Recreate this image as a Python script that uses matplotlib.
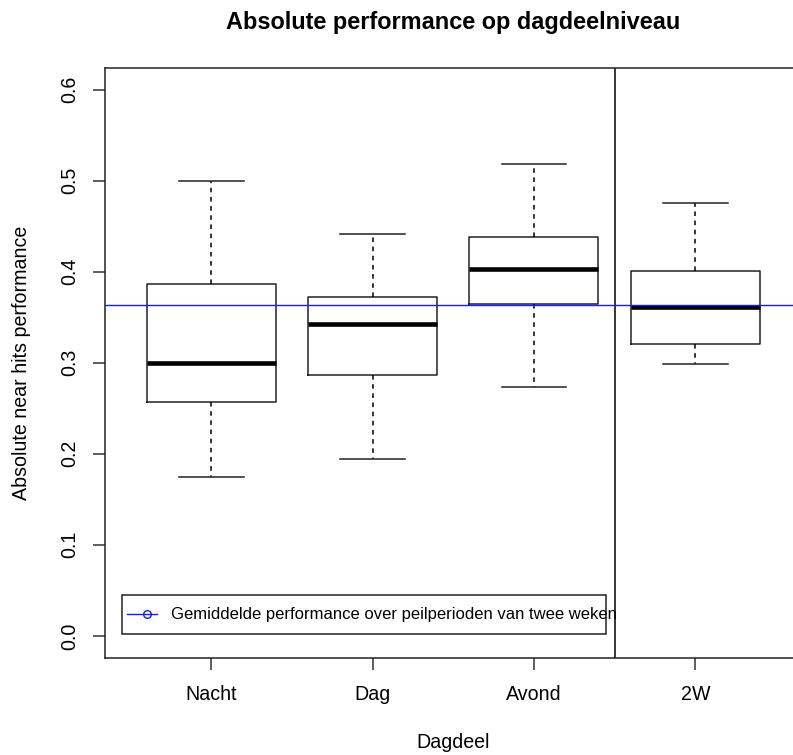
import matplotlib
matplotlib.use("Agg")
import matplotlib.pyplot as plt
from matplotlib.patches import Rectangle
from matplotlib.lines import Line2D

plt.rcParams['font.family'] = ['Liberation Sans', 'DejaVu Sans']

# Box statistics
categories = ["Nacht", "Dag", "Avond", "2W"]
whis_lo = [0.175, 0.194, 0.273, 0.299]
q1 = [0.257, 0.286, 0.365, 0.321]
medians = [0.300, 0.343, 0.403, 0.361]
q3 = [0.386, 0.372, 0.438, 0.401]
whis_hi = [0.500, 0.441, 0.518, 0.475]

# Average over the two-week measuring periods
mean_2w = 0.363

y_ticks = [0.0, 0.1, 0.2, 0.3, 0.4, 0.5, 0.6]

W, H = 793, 755
fig = plt.figure(figsize=(W / 100, H / 100), dpi=100)

# plot region in pixels (R-style, right edge falls just outside the image)
left, right, top, bottom = 105, 801.7, 67.7, 657.7
ax = fig.add_axes([left / W, 1 - bottom / H, (right - left) / W, (bottom - top) / H])

stats = []
for i, name in enumerate(categories):
    stats.append(dict(label=name, med=medians[i], q1=q1[i], q3=q3[i],
                      whislo=whis_lo[i], whishi=whis_hi[i], fliers=[]))

lw = 1.1
ax.bxp(stats, positions=range(1, len(categories) + 1), widths=0.8, capwidths=0.4,
       showfliers=False,
       boxprops=dict(color="#222222", linewidth=lw),
       medianprops=dict(color="black", linewidth=3.3, solid_capstyle="butt"),
       whiskerprops=dict(color="black", linewidth=lw, linestyle=(0, (3, 3))),
       capprops=dict(color="#222222", linewidth=lw))

ax.axhline(mean_2w, color="#1a1aff", linewidth=1.0, zorder=5)
ax.axvline(3.5, color="black", linewidth=lw)

n = len(categories)
ax.set_xlim(0.5 - 0.04 * n, n + 0.5 + 0.04 * n)
ax.set_ylim(-0.024, 0.624)

ax.set_yticks(y_ticks)
ax.set_yticklabels([f"{v:.1f}" for v in y_ticks], rotation=90, va="center")
ax.set_xticks(range(1, n + 1))
ax.set_xticklabels(categories)
ax.tick_params(axis="both", length=8.6, width=lw, labelsize=14.1, color="#333333")
ax.tick_params(axis="y", pad=10)
ax.tick_params(axis="x", pad=11)
for s in ax.spines.values():
    s.set_linewidth(lw)
    s.set_color("#222222")

# legend drawn R-style (text runs past the frame)
ax.add_patch(Rectangle((0.0248, 0.0407), 0.7191 - 0.0248, 0.1063 - 0.0407,
                       transform=ax.transAxes, fill=False, edgecolor="#222222",
                       linewidth=lw, zorder=6))
ax.add_line(Line2D([0.0311, 0.0742], [0.0736, 0.0736], transform=ax.transAxes,
                   color="#1a1aff", linewidth=1.0, zorder=7))
ax.add_line(Line2D([0.0599], [0.0736], transform=ax.transAxes, marker="o",
                   markersize=5.5, markerfacecolor="none", markeredgecolor="#1a1aff",
                   markeredgewidth=1.0, linestyle="none", zorder=7))
ax.text(0.0947, 0.0736, "Gemiddelde performance over peilperioden van twee weken",
        transform=ax.transAxes, fontsize=12, va="center", ha="left", zorder=7)

cx = (left + right) / 2 / W
fig.text(cx, 1 - 29.5 / H, "Absolute performance op dagdeelniveau",
         fontsize=16.9, fontweight="bold", ha="center", va="baseline")
fig.text(cx, 1 - 747.7 / H, "Dagdeel", fontsize=14.1, ha="center", va="baseline")
fig.text(22 / W, 1 - (top + bottom) / 2 / H, "Absolute near hits performance",
         fontsize=14.1, rotation=90, ha="center", va="center")

fig.savefig("out.png", dpi=100)
